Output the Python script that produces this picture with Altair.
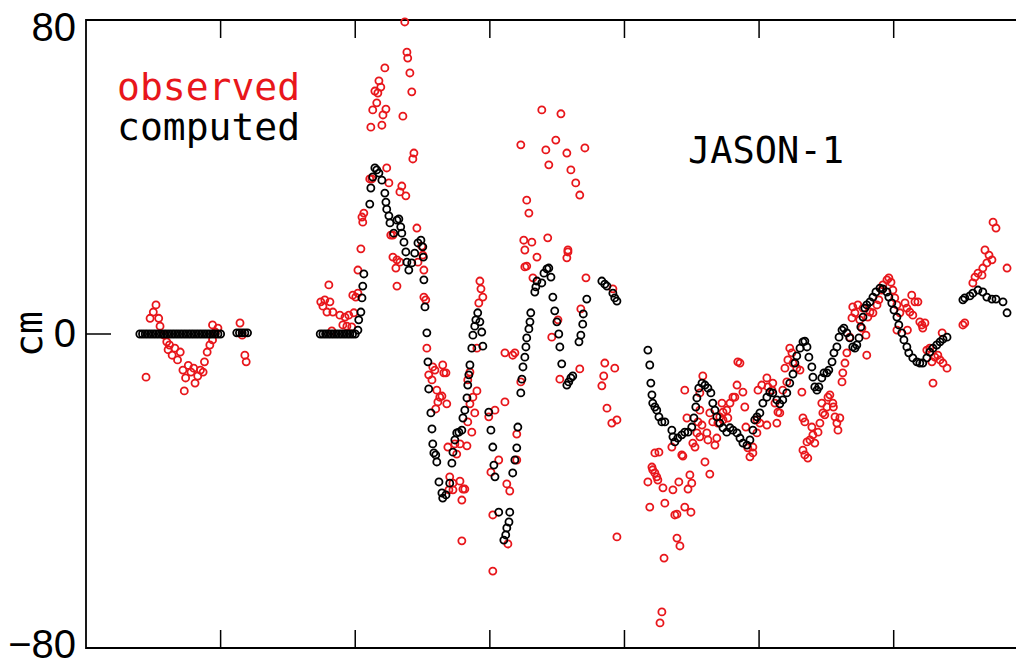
import altair as alt
import pandas as pd

# ---------------- data (x: along-track coordinate, y: sea surface height in cm) -------------
computed_seg_a = [
    (-13.0, 0.0), (-12.9, 0.0), (-12.8, 0.0), (-12.7, 0.0), (-12.6, 0.0), (-12.5, 0.0),
    (-12.4, 0.0), (-12.3, 0.0), (-12.2, 0.0), (-12.1, 0.0), (-12.0, 0.0), (-11.9, 0.0),
    (-11.8, 0.0), (-11.7, 0.0), (-11.6, 0.0), (-11.5, 0.0), (-11.4, 0.0), (-11.3, 0.0),
    (-11.2, 0.0), (-11.1, 0.0), (-11.0, 0.0), (-10.9, 0.0), (-10.8, 0.0), (-10.7, 0.0),
    (-10.6, 0.0), (-10.5, 0.0), (-10.4, 0.0), (-10.3, 0.0), (-10.2, 0.0), (-10.1, 0.0),
    (-10.0, 0.0), (-9.4, 0.3), (-9.3, 0.3), (-9.2, 0.3), (-9.1, 0.3), (-9.0, 0.3),
]
computed_seg_b = [
    (-6.3, 0.0), (-6.2, 0.0), (-6.1, 0.0), (-6.0, 0.0), (-5.9, 0.0), (-5.8, 0.0), (-5.7, 0.0),
    (-5.6, 0.0), (-5.5, 0.0), (-5.4, 0.0), (-5.3, 0.0), (-5.2, 0.0), (-5.1, 0.0), (-5.0, 0.0),
    (-4.90, 1.0), (-4.87, 3.6), (-4.79, 5.6), (-4.75, 9.2), (-4.72, 12.2), (-4.68, 15.3),
    (-4.46, 33.1), (-4.42, 37.2), (-4.35, 40.0), (-4.27, 42.3), (-4.20, 41.8), (-4.12, 41.0),
    (-4.01, 39.2), (-3.90, 35.9), (-3.86, 33.6), (-3.83, 31.8), (-3.75, 30.1), (-3.71, 28.3),
    (-3.57, 25.7), (-3.45, 29.0), (-3.38, 29.3), (-3.31, 27.3), (-3.27, 25.7), (-3.19, 23.4),
    (-3.12, 20.9), (-3.08, 18.3), (-3.01, 16.3), (-2.90, 18.1), (-2.79, 20.6), (-2.67, 23.2),
    (-2.56, 23.9), (-2.49, 22.2), (-2.47, 19.6), (-2.45, 13.8), (-2.41, 6.9), (-2.34, 0.3),
    (-2.30, -7.1), (-2.27, -14.0), (-2.19, -20.1), (-2.15, -24.2), (-2.12, -28.0),
    (-2.08, -30.3), (-2.01, -30.8), (-1.97, -32.6), (-1.89, -37.7), (-1.78, -40.5),
    (-1.75, -41.8), (-1.63, -41.0), (-1.49, -38.0), (-1.41, -32.9), (-1.37, -30.1),
    (-1.30, -27.0), (-1.23, -25.2), (-1.15, -25.0), (-1.04, -24.5), (-1.00, -21.4),
    (-0.93, -19.4), (-0.85, -16.3), (-0.82, -13.0), (-0.78, -10.4), (-0.74, -7.9),
    (-0.67, -3.6), (-0.63, -0.3), (-0.56, 2.0), (-0.52, 3.6), (-0.45, 5.4), (-0.37, 3.1),
    (-0.30, 0.5), (-0.26, -3.1), (-0.04, -19.9), (0.04, -24.5), (0.11, -28.8), (0.15, -33.4),
    (0.19, -36.4), (0.33, -45.4), (0.52, -52.5), (0.59, -51.2), (0.63, -49.4), (0.71, -47.9),
    (0.74, -45.4), (0.85, -35.4), (0.93, -32.1), (1.00, -29.0), (1.04, -23.7), (1.15, -15.0),
    (1.19, -11.5), (1.23, -8.4), (1.30, -5.9), (1.34, -3.3), (1.37, -1.0), (1.45, 1.3),
    (1.49, 3.1), (1.52, 5.4), (1.67, 10.7), (1.71, 12.0), (1.75, 13.5), (1.93, 13.0),
    (2.01, 15.5), (2.12, 16.6), (2.19, 16.8), (2.27, 14.5), (2.34, 9.4), (2.41, 5.9),
    (2.49, 3.1), (2.56, 0.0), (2.60, -3.3), (2.67, -7.6), (2.86, -13.0), (2.93, -12.2),
    (3.01, -11.2), (3.08, -10.7), (3.31, -2.0), (3.38, -0.3), (3.45, 2.5), (3.47, 5.1),
    (3.60, 8.9), (4.16, 13.5), (4.27, 12.7), (4.35, 12.2), (4.57, 10.4), (4.64, 9.2), (4.72, 8.4),
]
computed_seg_c = [
    (5.87, -4.1), (5.94, -7.9), (5.98, -12.5), (6.02, -15.5), (6.05, -17.6), (6.13, -18.6),
    (6.20, -19.4), (6.28, -21.1), (6.39, -22.4), (6.50, -22.4), (6.76, -24.5), (6.80, -26.2),
    (6.87, -27.5), (6.98, -26.5), (7.13, -25.7), (7.24, -25.0), (7.36, -25.0), (7.50, -23.7),
    (7.58, -21.4), (7.65, -18.6), (7.69, -16.3), (7.76, -13.8), (7.88, -12.5), (7.99, -13.0),
    (8.10, -13.8), (8.21, -15.0), (8.28, -17.6), (8.36, -19.4), (8.43, -21.1), (8.54, -22.7),
    (8.66, -23.9), (8.80, -25.0), (8.92, -23.9), (9.03, -24.5), (9.18, -25.2), (9.29, -26.5),
    (9.40, -27.8), (9.55, -28.3), (9.66, -27.0), (9.77, -24.5), (9.84, -21.9), (9.92, -21.1),
    (10.03, -20.1), (10.14, -17.6), (10.29, -16.1), (10.40, -14.8), (10.51, -15.0),
    (10.66, -16.8), (10.77, -17.8), (10.88, -16.8), (11.03, -15.0), (11.14, -12.5),
    (11.26, -10.2), (11.33, -7.4), (11.40, -5.6), (11.52, -3.6), (11.63, -2.0), (11.70, -1.8),
    (11.78, -3.3), (11.85, -5.9), (11.96, -8.4), (12.00, -11.0), (12.07, -13.5), (12.15, -14.3),
    (12.22, -13.5), (12.33, -11.2), (12.41, -9.9), (12.52, -9.9), (12.59, -9.2), (12.71, -7.1),
    (12.78, -4.8), (12.89, -3.3), (12.97, -0.8), (13.08, 1.0), (13.15, 1.5), (13.26, 0.3),
    (13.37, -1.0), (13.48, -3.3), (13.56, -3.6), (13.63, -2.8), (13.71, -1.0), (13.78, 1.8),
    (13.86, 4.3), (13.93, 6.6), (14.00, 7.4), (14.12, 8.2), (14.23, 9.4), (14.34, 10.7),
    (14.49, 11.7), (14.60, 11.5), (14.75, 10.7), (14.82, 9.4), (14.93, 7.9), (15.01, 6.1),
    (15.12, 4.3), (15.19, 2.3), (15.30, 0.3), (15.38, -1.5), (15.49, -3.3), (15.56, -4.8),
    (15.71, -6.1), (15.86, -7.1), (15.97, -7.4), (16.08, -7.4), (16.23, -6.1), (16.34, -4.6),
    (16.46, -3.6), (16.60, -2.8), (16.72, -2.0), (16.83, -1.3), (16.98, -0.8),
    (17.57, 8.7), (17.64, 9.2), (17.83, 9.7), (17.94, 10.4), (18.13, 11.2), (18.31, 10.7),
    (18.46, 9.4), (18.65, 8.9), (18.80, 8.9), (19.06, 8.2), (19.21, 5.4),
]

observed_seg_a = [
    (-12.77, -11.0), (-12.62, 4.0), (-12.50, 5.6), (-12.40, 7.4), (-12.30, 4.0), (-12.25, 2.0),
    (-12.10, -0.3), (-12.00, -2.0), (-11.95, -4.0), (-11.90, -2.8), (-11.80, -5.4),
    (-11.70, -3.6), (-11.60, -6.6), (-11.50, -4.6), (-11.40, -9.2), (-11.30, -11.2),
    (-11.20, -8.0), (-11.10, -9.7), (-11.00, -8.7), (-10.95, -12.5), (-10.85, -10.7),
    (-10.75, -9.2), (-10.65, -9.7), (-10.60, -7.1), (-10.50, -4.6), (-10.40, -2.8),
    (-10.30, -1.5), (-10.20, 0.5), (-10.10, 1.5), (-10.30, 2.3), (-11.35, -14.5),
    (-9.28, 2.8), (-9.20, -0.3), (-9.10, -5.4), (-9.05, -7.1),
]
observed_seg_b = [
    (-3.16, 79.5), (-3.08, 71.8), (-3.05, 70.3), (-2.97, 66.5), (-2.90, 61.7), (-3.23, 55.5),
    (-3.90, 67.8), (-4.12, 64.5), (-4.05, 62.9), (-4.27, 61.9), (-4.16, 61.4), (-4.20, 58.9),
    (-3.86, 57.3), (-4.35, 57.1), (-4.42, 52.7), (-4.01, 53.2), (-3.97, 55.8), (-2.82, 46.1),
    (-2.86, 44.6), (-3.83, 42.3), (-4.46, 39.5), (-4.38, 39.5), (-3.75, 38.5), (-3.27, 37.7),
    (-3.34, 36.2), (-3.12, 35.2), (-4.68, 30.8), (-4.75, 29.8), (-4.72, 28.5), (-2.71, 27.0),
    (-3.68, 25.2), (-3.60, 25.2), (-2.53, 22.4), (-4.79, 21.7), (-3.60, 19.6), (-3.45, 18.9),
    (-3.34, 18.3), (-3.49, 16.8), (-2.67, 18.3), (-2.49, 20.1), (-2.45, 16.3), (-4.90, 16.3),
    (-3.45, 12.2), (-5.98, 12.5), (-5.09, 9.9), (-4.98, 9.4), (-4.90, 10.4), (-2.45, 9.4),
    (-2.38, 8.7), (-6.28, 8.2), (-6.20, 7.1), (-6.13, 8.7), (-5.94, 8.2), (-6.05, 5.6),
    (-5.83, 5.6), (-5.57, 4.8), (-5.38, 4.3), (-5.24, 4.8), (-5.05, 5.4), (-5.46, 2.3),
    (-5.31, 2.0), (-5.13, 1.8), (-5.87, 0.8), (-2.34, -3.6), (-2.12, -8.4), (-2.04, -9.2),
    (-2.27, -10.4), (-2.15, -11.7), (-1.75, -7.9), (-1.71, -9.9), (-1.63, -9.9), (-1.97, -14.3),
    (-1.86, -16.1), (-1.78, -15.8), (-1.93, -17.3), (-1.60, -17.8), (-2.01, -19.1),
    (-1.49, -36.4), (-1.37, -38.0), (-1.52, -39.7), (-1.37, -39.7), (-1.11, -37.5),
    (-1.00, -39.5), (-0.93, -39.5), (-1.04, -42.3), (-1.56, -28.8), (-1.30, -28.0),
    (-1.23, -30.6), (-1.11, -28.0), (-0.85, -28.5), (-0.67, -25.0), (-0.82, -22.4),
    (-0.56, -20.1), (-0.74, -17.8), (-0.63, -16.1), (-0.48, -14.5), (-0.82, -11.7),
    (-0.74, -9.7), (-0.37, 13.5), (-0.33, 11.5), (-0.26, 9.4), (-0.41, 7.9), (-0.48, -3.6),
    (-1.04, -52.7), (0.11, -60.4), (0.11, -46.1), (0.04, -35.2), (0.33, -32.1), (-0.04, -21.1),
    (0.19, -19.4), (0.56, -17.3), (0.56, -4.8), (0.85, -5.4), (0.93, -4.8), (0.63, -38.2),
    (0.74, -40.0), (0.67, -53.5), (1.00, -25.5), (1.00, -32.1), (1.15, -12.2), (1.30, 21.4),
    (1.37, 17.3), (1.30, 17.1), (1.75, 19.6), (1.60, 14.3), (2.86, 19.4), (2.90, 20.9),
    (2.53, 3.6), (2.30, -0.8), (2.60, -11.5), (3.34, -8.9), (3.38, 6.4), (3.57, 14.3),
    (4.57, 11.5), (4.27, -7.4), (4.64, -8.7), (4.23, -10.7), (4.16, -13.2), (4.35, -18.9),
    (4.53, -22.7), (4.72, -21.9), (4.72, -51.7),
    (1.15, 48.2), (1.37, 34.1), (1.45, 30.8), (1.26, 23.9), (1.56, 23.4), (1.93, 57.1),
    (2.45, 49.4), (2.08, 46.9), (2.19, 43.1), (2.64, 56.1), (2.86, 46.1), (3.01, 41.8),
    (3.19, 38.5), (3.34, 35.4), (3.53, 47.4), (2.15, 24.5), (2.90, 21.4),
]
observed_seg_c = [
    (5.87, -37.7), (5.94, -44.1), (6.02, -33.9), (6.05, -34.6), (6.13, -35.4), (6.20, -36.4),
    (6.24, -37.2), (6.13, -30.3), (6.28, -30.1), (6.43, -39.2), (6.50, -43.1), (6.47, -57.1),
    (6.39, -70.8), (6.32, -73.6), (6.80, -39.7), (6.87, -46.1), (6.95, -45.9), (6.95, -52.0),
    (7.06, -54.0), (7.02, -37.7), (7.24, -44.1), (7.47, -45.4), (7.36, -39.5), (7.50, -38.0),
    (7.43, -35.9), (6.76, -28.8), (7.13, -30.8), (7.17, -31.1), (7.32, -21.4), (7.24, -14.3),
    (7.54, -27.8), (7.62, -28.8), (7.69, -25.2), (7.80, -26.2), (7.88, -23.2), (7.73, -22.4),
    (7.80, -19.4), (7.91, -10.7), (7.80, -15.0), (7.99, -32.6), (8.17, -35.7), (8.06, -25.2),
    (8.10, -27.0), (8.17, -20.1), (8.36, -28.3), (8.43, -26.5), (8.28, -22.4), (8.47, -22.7),
    (8.54, -21.1), (8.66, -21.9), (8.62, -17.6), (8.66, -19.9), (8.80, -19.4), (8.84, -21.4),
    (8.92, -17.6), (9.03, -16.1), (9.10, -16.1), (9.18, -13.0), (9.21, -7.1), (9.29, -7.4),
    (9.40, -14.8), (9.47, -18.6), (9.51, -23.7), (9.58, -29.0), (9.66, -31.3), (9.77, -30.3),
    (9.77, -28.8), (9.92, -21.9), (9.92, -25.2), (10.03, -22.7), (10.29, -23.2), (9.96, -14.3),
    (10.10, -13.0), (10.29, -11.2), (10.33, -13.5), (10.48, -14.3), (10.51, -12.5),
    (10.59, -17.6), (10.70, -19.9), (10.77, -20.1), (10.66, -22.7), (10.88, -14.3),
    (11.03, -12.2), (10.96, -8.7), (11.07, -6.6), (11.14, -3.6), (11.22, -4.8), (11.26, -7.4),
    (11.40, -8.7), (11.52, -9.2), (11.59, -14.8), (11.63, -21.4), (11.70, -22.4),
    (11.63, -29.6), (11.70, -30.8), (11.81, -31.6), (11.78, -27.5), (11.89, -27.0),
    (11.96, -23.7), (12.00, -25.7), (12.07, -27.8), (12.19, -25.0), (12.26, -22.7),
    (12.33, -17.6), (12.37, -20.1), (12.44, -20.6), (12.52, -18.6), (12.56, -16.1),
    (12.63, -15.5), (12.74, -17.6), (12.76, -18.6), (12.82, -21.1), (12.89, -22.7),
    (12.93, -24.5), (13.00, -21.4), (13.08, -12.2), (13.11, -9.9), (13.19, -7.4), (13.26, -4.8),
    (13.37, -0.8), (13.45, 4.1), (13.48, 6.9), (13.56, 5.4), (13.67, 7.4), (13.74, 3.6),
    (13.82, 1.5), (13.86, 6.6), (13.97, -0.3), (14.00, -5.4), (14.04, 4.3), (14.12, 5.6),
    (14.23, 5.4), (14.38, 7.4), (14.45, 8.7), (14.56, 11.2), (14.60, 12.5), (14.75, 13.8),
    (14.82, 14.3), (14.90, 13.2), (14.97, 11.2), (15.04, 9.2), (15.12, 7.4), (15.23, 5.4),
    (15.12, 1.0), (15.42, 7.9), (15.49, 6.6), (15.51, 1.0), (15.60, 5.6), (15.67, 9.9),
    (15.71, 4.8), (15.79, 8.2), (15.90, 8.2), (15.97, 3.1), (16.05, 2.3), (16.08, 1.5),
    (16.16, 2.8), (16.23, -4.1), (16.34, -3.6), (16.42, -7.1), (16.46, -12.5), (16.53, -5.9),
    (16.64, -5.4), (16.72, -6.6), (16.80, 0.3), (16.83, -7.4), (16.98, -8.7),
    (17.57, 2.3), (17.64, 2.8), (17.94, 13.0), (18.02, 14.5), (18.13, 15.5), (18.28, 15.0),
    (18.31, 16.8), (18.46, 18.1), (18.54, 20.1), (18.65, 18.9), (18.69, 28.5), (18.80, 27.0),
    (19.21, 16.8), (18.39, 21.4),
]

x_ticks = [-10, -5, 0, 5, 10, 15]
y_ticks = [-80, 0, 80]
y_tick_labels = ["\u221280", "0", "80"]
y_inner_ticks = [0]
x_domain = [-15, 19.84]
y_domain = [-80, 80]

RED = "#e8161b"
BLACK = "#000000"

computed = pd.DataFrame(computed_seg_a + computed_seg_b + computed_seg_c, columns=["x", "y"])
observed = pd.DataFrame(observed_seg_a + observed_seg_b + observed_seg_c, columns=["x", "y"])
xticks_df = pd.DataFrame({"x": x_ticks})
yticks_df = pd.DataFrame({"y": y_inner_ticks})
ylabels_df = pd.DataFrame({"y": y_ticks, "label": y_tick_labels})

W, H = 938, 628
TICK_FONT = "Liberation Sans, Arial, sans-serif"
MONO = "DejaVu Sans Mono, Liberation Mono, monospace"

xscale = alt.Scale(domain=x_domain, nice=False, zero=False)
yscale = alt.Scale(domain=y_domain, nice=False, zero=False)

def pts(df, color):
    return alt.Chart(df).mark_point(
        shape="circle", filled=False, color=color, strokeWidth=1.8, size=50, opacity=1
    ).encode(
        x=alt.X("x:Q", scale=xscale, axis=None),
        y=alt.Y("y:Q", scale=yscale, axis=None),
    )

obs_layer = pts(observed, RED)
comp_layer = pts(computed, BLACK)

# inward tick marks on the top, bottom and left frame
top_ticks = alt.Chart(xticks_df).mark_rule(color=BLACK, strokeWidth=1.5).encode(
    x=alt.X("x:Q", scale=xscale, axis=None), y=alt.value(0), y2=alt.value(18))
bottom_ticks = alt.Chart(xticks_df).mark_rule(color=BLACK, strokeWidth=1.5).encode(
    x=alt.X("x:Q", scale=xscale, axis=None), y=alt.value(H - 18), y2=alt.value(H))
left_ticks = alt.Chart(yticks_df).mark_rule(color=BLACK, strokeWidth=1.5).encode(
    y=alt.Y("y:Q", scale=yscale, axis=None), x=alt.value(0), x2=alt.value(25))

# y tick labels (the top one sits a little below its tick, as in the original)
def ylab(test, dy):
    return alt.Chart(ylabels_df).transform_filter(test).mark_text(
        font=TICK_FONT, fontSize=40, color=BLACK, align="right", baseline="middle", dy=dy
    ).encode(y=alt.Y("y:Q", scale=yscale, axis=None), text="label:N", x=alt.value(-10))

lab_top = ylab("datum.y == 80", 9)
lab_mid = ylab("datum.y == 0", 1)
lab_bot = ylab("datum.y == -80", -2)

obs_label = alt.Chart(pd.DataFrame({"t": ["observed"]})).mark_text(
    font=MONO, fontSize=38, color=RED, align="left", baseline="alphabetic"
).encode(text="t:N", x=alt.value(31), y=alt.value(80))

comp_label = alt.Chart(pd.DataFrame({"t": ["computed"]})).mark_text(
    font=MONO, fontSize=38, color=BLACK, align="left", baseline="alphabetic"
).encode(text="t:N", x=alt.value(31), y=alt.value(120))

sat_label = alt.Chart(pd.DataFrame({"t": ["JASON-1"]})).mark_text(
    font=MONO, fontSize=37, color=BLACK, align="left", baseline="alphabetic"
).encode(text="t:N", x=alt.value(602), y=alt.value(143))

unit_label = alt.Chart(pd.DataFrame({"t": ["cm"]})).mark_text(
    font=MONO, fontSize=38, color=BLACK, align="center", baseline="middle", angle=270
).encode(text="t:N", x=alt.value(-55), y=alt.value(H / 2))

chart = alt.layer(
    obs_layer, comp_layer, top_ticks, bottom_ticks, left_ticks,
    lab_top, lab_mid, lab_bot,
    obs_label, comp_label, sat_label, unit_label
).properties(
    width=W, height=H,
    autosize=alt.AutoSizeParams(type="none"),
    padding={"left": 78, "top": 12, "right": -8, "bottom": 20},
).configure(background="white").configure_view(stroke=BLACK, strokeWidth=1.8)

chart.save("out.html", embed_options={"renderer": "svg", "actions": False})
